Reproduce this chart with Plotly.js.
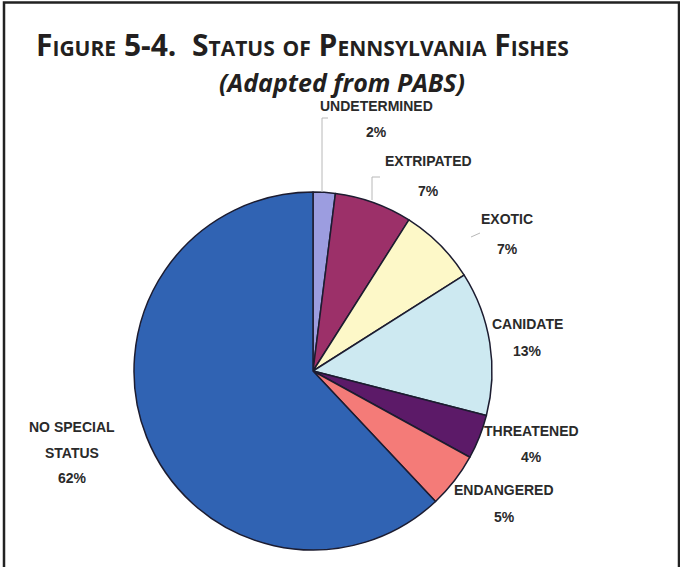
<!DOCTYPE html>
<html>
<head>
<meta charset="utf-8">
<script src="https://cdn.plot.ly/plotly-3.0.1.min.js"></script>
<style>
html,body{margin:0;padding:0;background:#fff;}
#chart{width:680px;height:567px;}
</style>
</head>
<body>
<div id="chart"></div>
<script>
// ---- data ----
var categories = ["UNDETERMINED", "EXTRIPATED", "EXOTIC", "CANIDATE", "THREATENED", "ENDANGERED", "NO SPECIAL STATUS"];
var values = [2, 7, 7, 13, 4, 5, 62];
var sliceColors = ["#9c9de0", "#9c3069", "#fdf8c8", "#cde9f1", "#5c1a68", "#f47b78", "#3063b3"];
var labelLines = [["UNDETERMINED"], ["EXTRIPATED"], ["EXOTIC"], ["CANIDATE"], ["THREATENED"], ["ENDANGERED"], ["NO SPECIAL", "STATUS"]];

// ---- layout helpers (pixel placement of outside labels) ----
var W = 680, H = 567;
function px(x) { return x / W; }
function py(y) { return 1 - y / H; }
var labelAnchor = [[376, 106.5], [428, 161], [507, 219], [527, 324], [531, 431], [504, 490], [72, 427]];
var lineGaps = [25, 30, 30, 27, 26, 27, 25.5];

var total = values.reduce(function (a, b) { return a + b; }, 0);
var cx = 313, cy = 371, R = 179;

var trace = {
  type: "pie",
  labels: categories,
  values: values,
  sort: false,
  direction: "clockwise",
  rotation: 0,
  textinfo: "none",
  hoverinfo: "none",
  showlegend: false,
  marker: { colors: sliceColors, line: { color: "#1c1c30", width: 1.5 } },
  domain: { x: [px(cx - R), px(cx + R)], y: [py(cy + R), py(cy - R)] }
};

var annotations = [];
annotations.push({
  xref: "paper", yref: "paper", x: px(35), y: py(45), xanchor: "left", yanchor: "middle", borderpad: 0,
  text: "Figure 5-4.  Status of Pennsylvania Fishes", showarrow: false,
  font: { family: "Open Sans", size: 30, weight: 700, variant: "small-caps", color: "#231f20" }
});
annotations.push({
  xref: "paper", yref: "paper", x: px(342), y: py(81.5), xanchor: "center", yanchor: "middle", borderpad: 0,
  text: "(Adapted from PABS)", showarrow: false,
  font: { family: "Open Sans", size: 25, weight: 700, style: "italic", color: "#231f20" }
});

var lblFont = { family: "Liberation Sans", size: 14, weight: 700, color: "#2a2a2a" };
for (var i = 0; i < categories.length; i++) {
  var lines = labelLines[i].concat([Math.round(values[i] / total * 100) + "%"]);
  for (var j = 0; j < lines.length; j++) {
    annotations.push({
      xref: "paper", yref: "paper", borderpad: 0,
      x: px(labelAnchor[i][0]), y: py(labelAnchor[i][1] + j * lineGaps[i]),
      xanchor: "center", yanchor: "middle",
      text: lines[j], showarrow: false, font: lblFont
    });
  }
}

var frame = { type: "rect", xref: "paper", yref: "paper", x0: px(4), x1: px(679), y0: py(600), y1: py(2.5),
  line: { color: "#222222", width: 2.5 }, fillcolor: "rgba(0,0,0,0)" };
var leaderStyle = { color: "#b8b8b8", width: 1 };
function pline(pts) {
  return { type: "path", xref: "paper", yref: "paper", line: leaderStyle,
    path: pts.map(function (p, k) { return (k ? "L" : "M") + px(p[0]) + "," + py(p[1]); }).join(" ") };
}
var shapes = [
  frame,
  pline([[328, 118], [322, 118], [322, 192]]),
  pline([[380, 177], [372, 177], [372, 200]]),
  pline([[480, 233], [471, 237]])
];

var layout = {
  width: W, height: H,
  margin: { l: 0, r: 0, t: 0, b: 0 },
  paper_bgcolor: "#ffffff",
  annotations: annotations,
  shapes: shapes
};

Plotly.newPlot("chart", [trace], layout, { displayModeBar: false, staticPlot: true });
</script>
</body>
</html>
